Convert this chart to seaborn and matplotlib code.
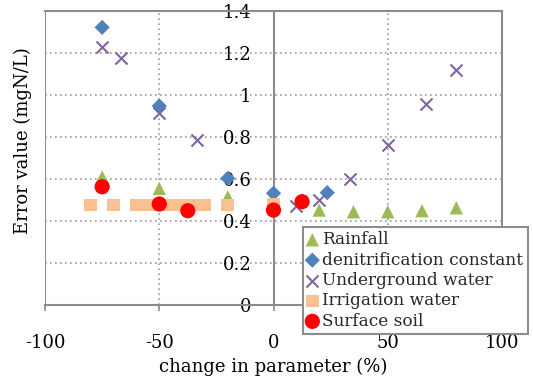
import matplotlib
matplotlib.use("Agg")
import matplotlib.pyplot as plt
import seaborn as sns
import pandas as pd

# ---- data ----
rain_x = [-75, -50, -20, 20, 35, 50, 65, 80]
rain_y = [0.61, 0.555, 0.515, 0.452, 0.444, 0.444, 0.449, 0.463]

denit_x = [-75, -50, -20, 0, 23.5]
denit_y = [1.322, 0.948, 0.603, 0.532, 0.535]

under_x = [-75, -66.7, -50, -33.3, 10, 20, 33.3, 50, 66.7, 80]
under_y = [1.227, 1.175, 0.913, 0.786, 0.471, 0.50, 0.599, 0.762, 0.956, 1.12]

irr_x = [-80, -70, -60, -55, -50, -45, -40, -35, -30, -20, 0]
irr_y = [0.476, 0.476, 0.476, 0.476, 0.476, 0.476, 0.476, 0.476, 0.476, 0.476, 0.48]

soil_x = [-75, -50, -37.5, 0, 12.5]
soil_y = [0.563, 0.481, 0.449, 0.452, 0.492]

series_names = ["Rainfall", "denitrification constant", "Underground water",
                "Irrigation water", "Surface soil"]
x_ticks = [-100, -50, 0, 50, 100]
x_ticklabels = ["-100", "-50", "0", "50", "100"]
y_ticks = [0, 0.2, 0.4, 0.6, 0.8, 1.0, 1.2, 1.4]
y_ticklabels = ["0", "0.2", "0.4", "0.6", "0.8", "1", "1.2", "1.4"]

sns.set_theme(style="white")
plt.rcParams["font.family"] = ["DejaVu Serif"]
plt.rcParams["axes.unicode_minus"] = False

fig = plt.figure(figsize=(5.33, 3.78), dpi=100)
ax = fig.add_axes([45 / 533, 1 - 305 / 378, (502 - 45) / 533, (305 - 11) / 378])

styles = [
    (rain_x, rain_y, "^", "#9BBB59", 92),
    (denit_x, denit_y, "D", "#4F81BD", 60),
    (under_x, under_y, "x", "#8064A2", 75),
    (irr_x, irr_y, "s", "#FAC090", 84),
    (soil_x, soil_y, "o", "#FF0000", 120),
]
for (xs, ys, mk, col, s), name in zip(styles, series_names):
    df = pd.DataFrame({"x": xs, "y": ys})
    if mk == "x":
        sns.scatterplot(data=df, x="x", y="y", ax=ax, marker=mk, color=col,
                        s=s, linewidth=1.5, label=name, zorder=3)
    else:
        sns.scatterplot(data=df, x="x", y="y", ax=ax, marker=mk, color=col,
                        s=s, linewidth=0, edgecolor="none", label=name, zorder=3)

ax.set_xlim(-100, 100)
ax.set_ylim(0, 1.4)

gray = "#8c8c8c"
# frame
for side in ["top", "right", "bottom"]:
    ax.spines[side].set_color(gray)
    ax.spines[side].set_linewidth(1.5)
ax.spines["left"].set_position(("data", 0))
ax.spines["left"].set_color(gray)
ax.spines["left"].set_linewidth(1.5)
ax.axvline(ax.get_xlim()[0], color=gray, lw=1.5, zorder=2)

ax.set_axisbelow(True)
ax.grid(True, axis="y", linestyle=(0, (1, 2)), color="#999999", linewidth=1.2)
ax.set_xticks(x_ticks)
ax.set_xticklabels(x_ticklabels)
ax.set_yticks(y_ticks)
ax.set_yticklabels(y_ticklabels)
for xv in x_ticks[1:-1]:
    if xv != 0:
        ax.axvline(xv, linestyle=(0, (1, 2)), color="#999999", linewidth=1.2, zorder=0.5)

ax.tick_params(axis="x", which="both", direction="out", length=4, width=1.2,
               color=gray, bottom=True, pad=17, labelsize=13, labelcolor="black")
ax.tick_params(axis="y", which="both", length=0, pad=16, labelsize=13,
               labelcolor="black")

ax.set_xlabel("change in parameter (%)", fontsize=13, color="black", labelpad=4)
ax.set_ylabel("Error value (mgN/L)", fontsize=13, color="black")
ax.yaxis.set_label_coords(-0.028, 0.56)

leg = ax.legend(loc="upper left", bbox_to_anchor=(303 / 533, 1 - 227 / 378),
                bbox_transform=fig.transFigure, borderaxespad=0, frameon=True,
                fancybox=False, edgecolor=gray, framealpha=1, fontsize=12.2,
                handlelength=0.6, handletextpad=0.3, labelspacing=0.2,
                borderpad=0.25)
leg.get_frame().set_linewidth(1.5)
leg.set_zorder(10)

fig.savefig("out.png", dpi=100)
